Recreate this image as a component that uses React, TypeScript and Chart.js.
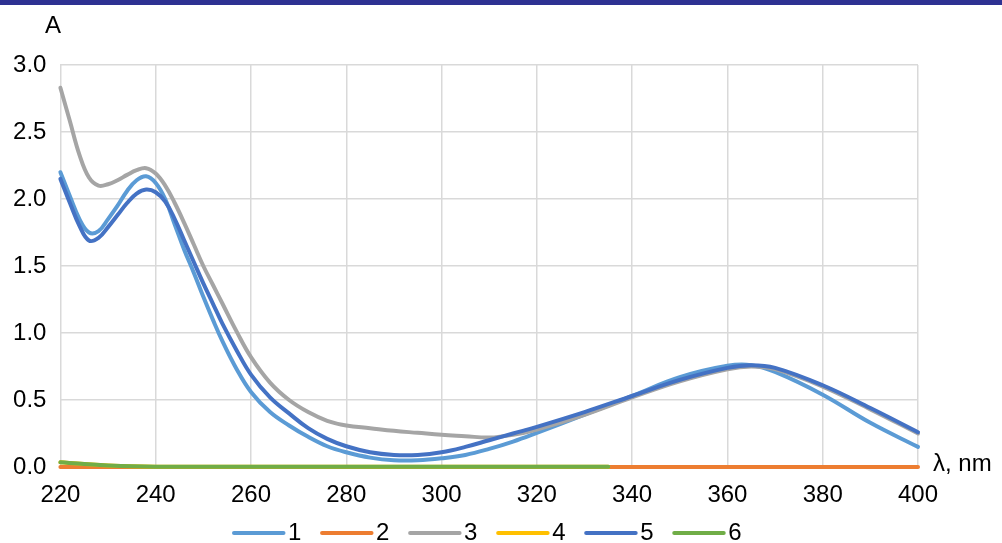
import React, { useEffect, useRef } from "react";
import { Chart, registerables } from "chart.js";

Chart.register(...registerables);

// Wavelengths (nm) shared by spectra 1, 3 and 5
const wavelengths = [
  220, 222, 224, 226, 228, 230, 232, 234, 236, 238, 240, 242, 244, 246, 248, 250,
  252, 254, 257, 260, 264, 268, 272, 276, 280, 285, 290, 295, 300, 305, 310, 315,
  320, 330, 340, 350, 360, 365, 370, 380, 390, 400,
];

const series1 = [
  2.2, 2.02, 1.85, 1.75, 1.76, 1.85, 1.95, 2.06, 2.14, 2.17, 2.12, 2.0, 1.81, 1.62, 1.45, 1.27,
  1.1, 0.94, 0.73, 0.56, 0.41, 0.31, 0.225, 0.155, 0.11, 0.07, 0.05, 0.05, 0.065, 0.09, 0.135, 0.19,
  0.255, 0.39, 0.53, 0.67, 0.755, 0.76, 0.71, 0.54, 0.33, 0.15,
];

const series3 = [
  2.83, 2.58, 2.33, 2.16, 2.1, 2.11, 2.14, 2.18, 2.215, 2.23, 2.19, 2.1, 1.97, 1.82, 1.66, 1.5,
  1.36, 1.22, 1.01, 0.82, 0.63, 0.5, 0.41, 0.345, 0.31, 0.29, 0.27, 0.255, 0.24, 0.23, 0.22, 0.24,
  0.28, 0.39, 0.52, 0.64, 0.73, 0.75, 0.73, 0.6, 0.43, 0.25,
];

const series5 = [
  2.15, 1.97, 1.8, 1.69, 1.71, 1.79, 1.88, 1.97, 2.04, 2.07, 2.05, 1.98, 1.85, 1.69, 1.53, 1.37,
  1.22, 1.07, 0.87, 0.69, 0.52, 0.4, 0.29, 0.21, 0.155, 0.11, 0.09, 0.09, 0.11, 0.15, 0.2, 0.25,
  0.3, 0.41, 0.53, 0.65, 0.74, 0.76, 0.74, 0.61, 0.44, 0.26,
];

// Spectrum 2 spans the full range at zero
const wavelengths2 = [220, 260, 300, 340, 380, 400];
const series2 = [0, 0, 0, 0, 0, 0];

// Spectra 4 and 6 end at 335 nm
const wavelengths46 = [220, 225, 230, 235, 240, 260, 280, 300, 320, 335];
const series4 = [0.035, 0.022, 0.012, 0.005, 0.002, 0.002, 0.002, 0.002, 0.001, 0.001];
const series6 = [0.035, 0.022, 0.012, 0.005, 0.002, 0.002, 0.002, 0.002, 0.001, 0.001];

const seriesNames = ["1", "2", "3", "4", "5", "6"];
const seriesColors = ["#5B9BD5", "#ED7D31", "#A5A5A5", "#FFC000", "#4472C4", "#70AD47"];

const xMin = 220;
const xMax = 400;
const xStep = 20;
const yMin = 0;
const yMax = 3;
const yStep = 0.5;

const yAxisTitle = "A";
const xAxisTitle = "λ, nm";

const FONT = "'Liberation Sans', Arial, sans-serif";

const toPoints = (xs: number[], ys: number[]) => xs.map((x, i) => ({ x, y: ys[i] }));

const textPlugin = {
  id: "extraText",
  afterDraw(chart: any) {
    const { ctx, chartArea } = chart;
    ctx.save();
    ctx.font = `24px ${FONT}`;
    ctx.fillStyle = "#000";
    ctx.textBaseline = "middle";
    // axis titles
    ctx.textAlign = "center";
    ctx.fillText(yAxisTitle, 53, 26);
    ctx.textAlign = "left";
    ctx.fillText(xAxisTitle, chartArea.right + 15, chartArea.bottom - 3);
    // legend
    let x = 232;
    const y = 533;
    chart.data.datasets.forEach((ds: any) => {
      ctx.strokeStyle = ds.borderColor;
      ctx.lineWidth = 4;
      ctx.lineCap = "round";
      ctx.beginPath();
      ctx.moveTo(x + 2, y);
      ctx.lineTo(x + 51.5, y);
      ctx.stroke();
      ctx.fillStyle = "#000";
      ctx.fillText(ds.label, x + 56, y);
      x += 56 + ctx.measureText(ds.label).width + 18.7;
    });
    ctx.restore();
  },
};

export default function App() {
  const canvasRef = useRef<HTMLCanvasElement | null>(null);

  useEffect(() => {
    if (!canvasRef.current) return;
    Chart.defaults.font.family = FONT;
    const dataSets = [
      toPoints(wavelengths, series1),
      toPoints(wavelengths2, series2),
      toPoints(wavelengths, series3),
      toPoints(wavelengths46, series4),
      toPoints(wavelengths, series5),
      toPoints(wavelengths46, series6),
    ];
    const chart = new Chart(canvasRef.current, {
      type: "line",
      data: {
        datasets: dataSets.map((d, i) => ({
          label: seriesNames[i],
          data: d,
          borderColor: seriesColors[i],
          backgroundColor: seriesColors[i],
          borderWidth: 4,
          pointRadius: 0,
          tension: 0.4,
          borderCapStyle: "round" as const,
          borderJoinStyle: "round" as const,
          fill: false,
          clip: false as any,
          order: seriesNames.length - i,
        })),
      },
      options: {
        responsive: false,
        animation: false,
        events: [],
        layout: { padding: { top: 65, bottom: 36, left: 0, right: 0 } },
        plugins: {
          legend: { display: false },
          tooltip: { enabled: false },
        },
        scales: {
          x: {
            type: "linear",
            min: xMin,
            max: xMax,
            ticks: {
              stepSize: xStep,
              font: { size: 24, family: FONT },
              color: "#000",
              padding: 14,
              maxRotation: 0,
            },
            grid: { color: "#D9D9D9", lineWidth: 1.5, drawTicks: false },
            border: { display: false },
            afterFit: (s: any) => {
              s.height = 40;
            },
          },
          y: {
            type: "linear",
            min: yMin,
            max: yMax,
            ticks: {
              stepSize: yStep,
              font: { size: 24, family: FONT },
              color: "#000",
              padding: 14,
              callback: (v: any) => Number(v).toFixed(1),
            },
            grid: { color: "#D9D9D9", lineWidth: 1.5, drawTicks: false },
            border: { display: false },
            afterFit: (s: any) => {
              s.width = 60.4;
            },
          },
          yRight: {
            type: "linear",
            position: "right",
            display: true,
            ticks: { display: false },
            grid: { display: false, drawOnChartArea: false, drawTicks: false },
            border: { display: false },
            afterFit: (s: any) => {
              s.width = 84;
            },
          },
        },
      },
      plugins: [textPlugin],
    });
    return () => chart.destroy();
  }, []);

  return (
    <div
      style={{
        position: "fixed",
        left: 0,
        top: 0,
        width: 1002,
        height: 543,
        background: "#fff",
        overflow: "hidden",
      }}
    >
      <canvas ref={canvasRef} width={1002} height={543} style={{ display: "block" }} />
      <div
        style={{
          position: "absolute",
          left: 0,
          top: 0,
          width: 1002,
          height: 5,
          background: "#2E3192",
        }}
      />
    </div>
  );
}
